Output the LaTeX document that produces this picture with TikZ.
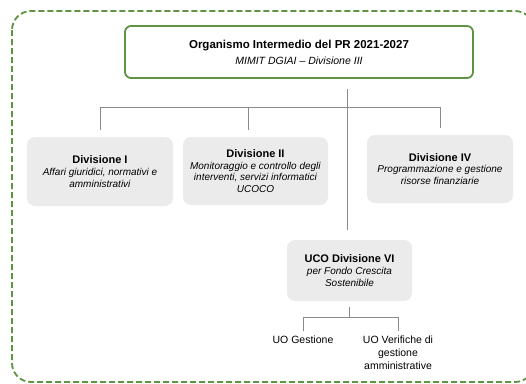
\documentclass[tikz,border=0pt]{standalone}
\usepackage{fontspec}
\setmainfont{Liberation Sans}
\usepackage{xcolor}
\usetikzlibrary{positioning}

\definecolor{framegreen}{HTML}{5E9442}
\definecolor{boxgray}{HTML}{EBEBEB}
\definecolor{linegray}{HTML}{8A8A8A}

\begin{document}
\begin{tikzpicture}[x=1pt,y=-1pt,
    unit/.style={rectangle,rounded corners=8pt,fill=boxgray,align=center,inner sep=2pt,
        font=\fontsize{10}{11.7}\selectfont},
    head/.style={rectangle,rounded corners=6pt,draw=framegreen,line width=1.8pt,fill=white,align=center},
    leaf/.style={align=center,inner sep=3pt,font=\fontsize{10.5}{13}\selectfont},
    link/.style={draw=linegray,line width=0.9pt}]
\useasboundingbox (0,0) rectangle (526,383);
\draw[framegreen,line width=1.8pt,dash pattern=on 6pt off 3pt,rounded corners=19pt] (12,11) rectangle (534,382);

\node[head,minimum width=348pt,minimum height=52pt] (oi) at (299,52)
    {{\bfseries\fontsize{11.5}{13}\selectfont Organismo Intermedio del PR 2021-2027}\\[4pt]
     {\itshape\fontsize{10.5}{12}\selectfont MIMIT DGIAI -- Divisione III}};
\node[unit,minimum width=146pt,minimum height=69pt] (div1) at (100,171.5)
    {{\bfseries\fontsize{11}{12}\selectfont Divisione I}\\\textit{Affari giuridici, normativi e}\\\textit{amministrativi}};
\node[unit,minimum width=145pt,minimum height=68pt] (div2) at (255.5,171)
    {{\bfseries\fontsize{11}{12}\selectfont Divisione II}\\\textit{Monitoraggio e controllo degli}\\\textit{interventi, servizi informatici}\\\textit{UCOCO}};
\node[unit,minimum width=146pt,minimum height=68pt] (div4) at (440,169)
    {{\bfseries\fontsize{11}{12}\selectfont Divisione IV}\\\textit{Programmazione e gestione}\\\textit{risorse finanziarie}};
\node[unit,minimum width=125pt,minimum height=61pt] (uco) at (349.5,270.5)
    {{\bfseries\fontsize{11}{12}\selectfont UCO Divisione VI}\\\textit{per Fondo Crescita}\\\textit{Sostenibile}};
\node[leaf] (uog) at (303,340) {UO Gestione};
\node[leaf] (uov) at (398,353) {UO Verifiche di\\gestione\\amministrative};

\coordinate (hub) at (347,107);
\coordinate (fork) at (349.5,317);
\draw[link] ([yshift=-10pt]oi.south -| hub) -- ([yshift=10pt]uco.north -| hub);
\draw[link] ([yshift=7pt]div1.north) -- (div1.north |- hub) -- (div4.north |- hub) -- ([yshift=7pt]div4.north);
\draw[link] ([xshift=-7pt,yshift=7pt]div2.north) -- ([xshift=-7pt]div2.north |- hub);
\draw[link] ([yshift=-6pt]uco.south) -- (fork);
\draw[link] ([yshift=2pt]uog.north) -- (uog.north |- fork) -- (uov.north |- fork) -- ([yshift=2pt]uov.north);
\end{tikzpicture}
\end{document}
